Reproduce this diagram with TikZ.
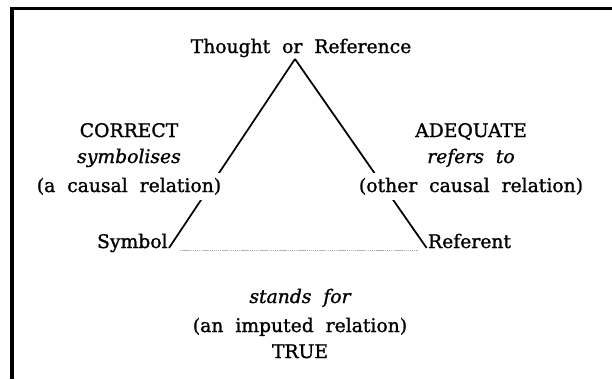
\documentclass[tikz,border=0pt]{standalone}
\usepackage{fontspec}
\setmainfont[WordSpace=2.0, FakeBold=1.2]{DejaVu Serif}
\usetikzlibrary{positioning, backgrounds}

\begin{document}
\begin{tikzpicture}[
                txt/.style={anchor=base, inner sep=2pt, font=\fontsize{16}{18}\selectfont},
                slanted/.style={txt, font=\fontsize{16}{18}\selectfont\itshape},
                corner/.style={txt, inner sep=1pt},
                gapfill/.style={fill=white, inner sep=4pt},
                leg/.style={line width=1.5pt},
                dotleg/.style={gray!60, line width=0.7pt, dash pattern=on 1.2pt off 0.6pt},
                frame/.style={line width=2.6pt}
            ]

            % Rahmen
            \useasboundingbox (0,0) rectangle (18.36,-11.37);
            \draw[frame] (18.36,-0.255) -- (0.36,-0.255) -- (0.36,-11.37);

            % Ecken
            \node[txt] (thought) at (9.03,-1.59) {Thought or Reference};
            \coordinate (apex) at (8.85,-1.77);
            \node[corner, anchor=base east] (symbol) at (5.07,-7.44) {Symbol};
            \node[corner, anchor=base west] (referent) at (12.80,-7.44) {Referent};

            % Beschriftungen links
            \node[txt] (correct) at (3.87,-4.11) {CORRECT};
            \node[slanted] (symbolises) at ([yshift=-0.78cm]correct.base) {symbolises};
            \node[txt, gapfill] (causalleft) at ([yshift=-0.87cm]symbolises.base) {(a causal relation)};

            % Beschriftungen rechts
            \node[txt] (adequate) at (14.13,-4.11) {ADEQUATE};
            \node[slanted] (refersto) at ([yshift=-0.78cm]adequate.base) {refers to};
            \node[txt, gapfill] (causalright) at ([yshift=-0.87cm]refersto.base) {(other causal relation)};

            % Beschriftungen unten
            \node[slanted] (standsfor) at (9.0,-9.09) {stands for};
            \node[txt] (imputed) at ([yshift=-0.87cm]standsfor.base) {(an imputed relation)};
            \node[txt] (truth) at ([yshift=-0.78cm]imputed.base) {TRUE};

            % Kanten
            \begin{scope}[on background layer]
                \draw[leg] (apex) -- (symbol.base east);
                \draw[leg] (apex) -- (referent.base west);
                \draw[dotleg, shorten <=0.33cm, shorten >=0.26cm] ([yshift=-0.06cm]symbol.base east) -- ([yshift=-0.06cm]referent.base west);
            \end{scope}

        \end{tikzpicture}
\end{document}
